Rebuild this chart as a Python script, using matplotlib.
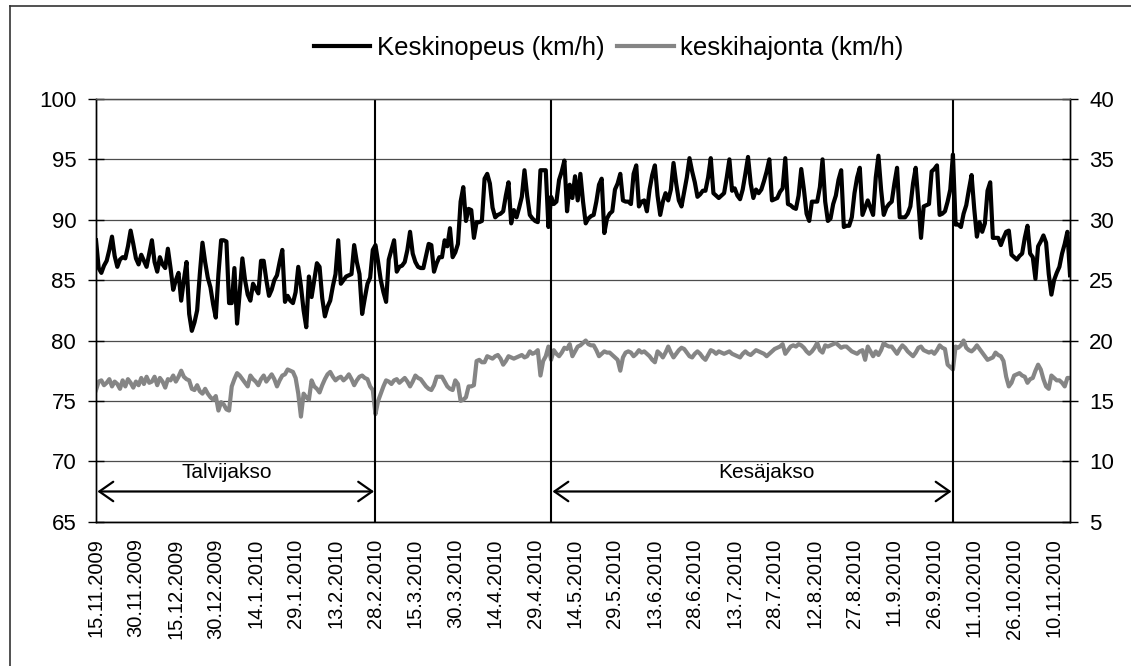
import matplotlib
matplotlib.use("Agg")
import matplotlib.pyplot as plt
import pandas as pd
from matplotlib.lines import Line2D

plt.rcParams['font.family'] = ['Liberation Sans', 'DejaVu Sans']

start_date = '2009-11-15'

# Keskinopeus (km/h), daily values from 15.11.2009
speed = [
    88.3, 86.0, 85.6, 86.2, 86.6, 87.5, 88.6, 87.0, 86.1, 86.7,
    86.9, 86.8, 87.8, 89.1, 88.0, 86.8, 86.3, 87.1, 86.6, 86.1,
    87.2, 88.3, 86.5, 85.7, 86.9, 86.3, 86.0, 87.6, 86.0, 84.2,
    85.0, 85.6, 83.3, 85.0, 86.5, 82.2, 80.8, 81.5, 82.5, 85.5,
    88.1, 86.5, 85.2, 84.4, 83.0, 81.9, 85.5, 88.3, 88.3, 88.2,
    83.1, 83.1, 86.0, 81.4, 84.0, 86.8, 85.0, 83.8, 83.3, 84.7,
    84.3, 83.9, 86.6, 86.6, 85.0, 83.7, 84.2, 85.0, 85.4, 86.5,
    87.5, 83.2, 83.7, 83.3, 83.1, 84.0, 86.1, 84.5, 82.5, 81.1,
    85.3, 83.6, 85.0, 86.4, 86.1, 83.5, 82.0, 82.8, 83.3, 84.5,
    85.5, 88.3, 84.7, 85.0, 85.3, 85.4, 85.5, 87.9, 86.5, 85.5,
    82.2, 83.5, 84.7, 85.2, 87.5, 87.9, 86.5, 85.0, 84.0, 83.2,
    86.7, 87.5, 88.3, 85.7, 86.1, 86.2, 86.5, 87.5, 89.0, 87.2,
    86.5, 86.1, 86.0, 86.0, 87.0, 88.0, 87.9, 85.7, 86.4, 86.9,
    86.9, 88.3, 87.8, 89.3, 86.9, 87.3, 88.0, 91.5, 92.7, 89.9,
    90.9, 90.8, 88.5, 89.8, 89.8, 89.9, 93.4, 93.8, 93.0, 91.0,
    90.2, 90.4, 90.5, 90.7, 92.0, 93.1, 89.7, 90.8, 90.2, 91.0,
    91.9, 94.1, 92.0, 90.4, 90.1, 89.9, 89.8, 94.1, 94.1, 94.1,
    89.4, 91.9, 91.3, 91.5, 93.3, 94.0, 94.9, 90.7, 92.9, 91.8,
    93.6, 91.6, 93.8, 91.5, 89.7, 90.1, 90.3, 90.4, 91.5, 92.9,
    93.4, 88.9, 90.1, 90.5, 90.7, 92.5, 93.0, 93.8, 91.6, 91.5,
    91.5, 91.3, 93.8, 94.5, 91.1, 91.5, 91.6, 90.7, 92.5, 93.7,
    94.5, 92.0, 90.4, 91.5, 92.2, 91.6, 92.5, 94.7, 93.0, 91.6,
    91.1, 92.3, 93.5, 95.1, 94.0, 93.1, 91.9, 92.1, 92.4, 92.4,
    93.5, 95.1, 92.2, 92.0, 91.8, 92.0, 92.2, 93.5, 95.0, 92.4,
    92.6, 92.0, 91.7, 92.5, 93.8, 95.2, 93.0, 91.8, 92.5, 92.2,
    92.5, 93.2, 94.0, 95.0, 91.6, 91.7, 91.8, 92.3, 92.6, 95.1,
    91.3, 91.2, 91.0, 90.9, 92.0, 94.2, 92.5, 90.5, 89.9, 91.5,
    91.5, 91.5, 92.7, 95.0, 91.5, 89.9, 90.1, 91.3, 92.0, 93.3,
    94.1, 89.4, 89.5, 89.5, 90.2, 92.2, 93.5, 94.3, 90.4, 91.0,
    91.6, 91.0, 90.4, 93.5, 95.3, 92.5, 90.4, 91.0, 91.3, 91.5,
    93.0, 94.3, 90.2, 90.2, 90.2, 90.5, 91.1, 93.0, 94.3, 91.5,
    88.5, 91.1, 91.2, 91.3, 94.0, 94.2, 94.5, 90.4, 90.5, 90.7,
    91.5, 92.5, 95.4, 89.6, 89.6, 89.4, 90.5, 91.2, 92.5, 93.7,
    90.9, 88.6, 89.8, 89.0, 89.7, 92.4, 93.1, 88.5, 88.5, 88.5,
    87.9, 88.5, 89.0, 89.1, 87.1, 86.9, 86.7, 87.0, 87.2, 88.5,
    89.5, 87.2, 86.9, 85.1, 87.8, 88.2, 88.7, 88.1, 85.5, 83.8,
    85.0, 85.6, 86.1, 87.2, 88.0, 89.0, 85.4,
]

# keskihajonta (km/h), daily values from 15.11.2009 (right axis)
spread = [
    15.9, 16.6, 16.7, 16.3, 16.5, 16.8, 16.2, 16.6, 16.4, 16.0,
    16.7, 16.2, 16.8, 16.5, 16.1, 16.6, 16.3, 16.9, 16.4, 17.0,
    16.5, 16.6, 17.0, 16.3, 16.9, 16.6, 16.1, 16.8, 16.7, 17.1,
    16.6, 17.0, 17.5, 17.0, 16.8, 16.7, 16.0, 15.9, 16.3, 15.8,
    15.6, 16.0, 15.6, 15.3, 15.1, 15.4, 14.2, 14.9, 14.7, 14.3,
    14.2, 16.2, 16.8, 17.3, 17.1, 16.8, 16.5, 16.2, 17.1, 16.8,
    16.6, 16.3, 16.8, 17.1, 16.6, 16.9, 17.2, 16.8, 16.2, 16.7,
    17.1, 17.2, 17.6, 17.5, 17.4, 16.9, 15.6, 13.7, 15.6, 15.3,
    15.1, 16.7, 16.2, 16.0, 15.7, 16.3, 16.8, 17.2, 17.4, 17.0,
    16.7, 16.9, 17.0, 16.7, 16.9, 17.2, 16.8, 16.3, 16.7, 17.0,
    17.1, 16.9, 16.8, 16.2, 15.9, 13.9, 15.0, 15.6, 16.2, 16.7,
    16.6, 16.4, 16.7, 16.8, 16.5, 16.7, 16.9, 16.6, 16.2, 16.6,
    17.1, 16.9, 16.8, 16.5, 16.2, 16.0, 15.9, 16.3, 17.0, 17.0,
    17.0, 16.6, 16.2, 16.0, 15.9, 16.7, 16.4, 15.0, 15.1, 15.3,
    16.2, 16.2, 16.3, 18.3, 18.4, 18.2, 18.2, 18.7, 18.6, 18.5,
    18.7, 18.8, 18.5, 18.0, 18.3, 18.7, 18.6, 18.5, 18.6, 18.7,
    18.8, 18.6, 18.7, 19.1, 18.9, 19.0, 19.2, 17.1, 18.3, 18.7,
    19.5, 18.4, 19.2, 18.9, 18.7, 19.0, 19.4, 19.3, 19.7, 18.7,
    19.1, 19.5, 19.6, 19.8, 20.0, 19.7, 19.6, 19.6, 19.2, 18.7,
    18.9, 19.1, 19.0, 19.0, 18.8, 18.6, 18.4, 17.5, 18.6, 19.0,
    19.1, 19.0, 18.7, 18.9, 19.2, 19.0, 19.1, 18.9, 18.7, 18.4,
    18.2, 19.1, 18.9, 18.6, 19.0, 19.5, 19.0, 18.6, 18.9, 19.2,
    19.4, 19.3, 19.0, 18.7, 18.6, 18.9, 19.1, 18.9, 18.6, 18.4,
    18.8, 19.2, 19.1, 18.9, 19.1, 19.0, 18.9, 19.0, 19.1, 18.9,
    18.8, 18.7, 18.6, 18.9, 19.1, 18.9, 18.8, 19.0, 19.2, 19.1,
    19.0, 18.9, 18.7, 18.9, 19.1, 19.3, 19.4, 19.5, 19.7, 18.9,
    19.2, 19.5, 19.6, 19.5, 19.7, 19.6, 19.4, 19.1, 18.9, 19.1,
    19.4, 19.8, 19.2, 19.0, 19.6, 19.5, 19.6, 19.7, 19.8, 19.6,
    19.4, 19.5, 19.5, 19.3, 19.1, 19.0, 18.9, 19.1, 19.2, 18.4,
    19.5, 19.1, 18.7, 19.1, 18.8, 19.2, 19.8, 19.6, 19.5, 19.5,
    19.2, 18.9, 19.3, 19.6, 19.4, 19.1, 18.9, 18.7, 19.0, 19.4,
    19.5, 19.2, 19.1, 19.0, 19.1, 18.9, 19.2, 19.6, 19.4, 19.3,
    18.0, 17.8, 17.6, 19.5, 19.4, 19.6, 20.0, 19.4, 19.2, 19.1,
    19.3, 19.6, 19.3, 19.0, 18.7, 18.4, 18.5, 18.6, 19.0, 18.8,
    18.7, 18.3, 17.0, 16.2, 16.5, 17.1, 17.2, 17.3, 17.1, 17.0,
    16.5, 16.8, 16.9, 17.5, 18.0, 17.6, 16.8, 16.2, 16.0, 17.1,
    16.9, 16.7, 16.7, 16.5, 16.2, 16.9, 16.9,
]

series_labels = ['Keskinopeus (km/h)', 'keskihajonta (km/h)']
period_lines = ['2010-02-28', '2010-05-05', '2010-10-03']
period_names = ['Talvijakso', 'Kesäjakso']
period_spans = [('2009-11-15', '2010-02-28'), ('2010-05-05', '2010-10-03')]
period_label_dates = ['2010-01-03', '2010-07-25']

dates_speed = pd.date_range(start_date, periods=len(speed), freq='D')
dates_spread = pd.date_range(start_date, periods=len(spread), freq='D')
label_dates = pd.date_range(start_date, dates_speed[-1], freq='15D')
mark_dates = pd.date_range(start_date, dates_speed[-1], freq='30D')

fig = plt.figure(figsize=(11.31, 6.66), dpi=100)
ax = fig.add_axes([0.0849, 0.2167, 0.8612, 0.6347])
ax2 = ax.twinx()

ax.set_ylim(65, 100)
ax.set_yticks(range(65, 101, 5))
ax2.set_ylim(5, 40)
ax2.set_yticks(range(5, 41, 5))
ax.set_xlim(dates_speed[0], dates_speed[-1])

ax.yaxis.grid(True, color='#4d4d4d', lw=0.9)
ax.set_axisbelow(True)

l1, = ax.plot(dates_speed, speed, color='black', lw=3.0, solid_joinstyle='round',
              label=series_labels[0])
l2, = ax2.plot(dates_spread, spread, color='#858585', lw=3.0, solid_joinstyle='round',
               label=series_labels[1])

for d in period_lines:
    ax2.axvline(pd.Timestamp(d), color='black', lw=1.5)

for (s, e), name, ld in zip(period_spans, period_names, period_label_dates):
    ax.annotate('', xy=(pd.Timestamp(e), 67.5), xytext=(pd.Timestamp(s), 67.5),
                arrowprops=dict(arrowstyle='<->,head_length=0.5,head_width=0.35',
                                lw=1.6, color='black', shrinkA=1, shrinkB=1,
                                mutation_scale=20))
    ax.text(pd.Timestamp(ld), 69.1, name, ha='center', va='center', fontsize=15)

ax.set_xticks(label_dates)
ax.set_xticklabels([f"{d.day}.{d.month}.{d.year}" for d in label_dates],
                   rotation=90, fontsize=14.5)
ax.set_xticks(mark_dates, minor=True)
ax.tick_params(axis='x', which='major', length=0, pad=12)
ax.tick_params(axis='x', which='minor', length=7.5, width=1, direction='inout')
ax.tick_params(axis='y', direction='inout', length=11.5, width=1, pad=8.5, labelsize=16)
ax2.tick_params(axis='y', direction='inout', length=11.5, width=1, pad=8, labelsize=16)

for a in (ax, ax2):
    for sp in ('left', 'right', 'bottom'):
        a.spines[sp].set_color('black')
        a.spines[sp].set_linewidth(1.0)
    a.spines['top'].set_color('#4d4d4d')
    a.spines['top'].set_linewidth(0.9)

leg = fig.legend(handles=[l1, l2], loc='center', bbox_to_anchor=(0.538, 0.928),
                 ncol=2, frameon=False, fontsize=18.5, handlelength=2.2,
                 handletextpad=0.25, columnspacing=0.5)

# outer chart border (left and top edges visible)
fig.add_artist(Line2D([9.5 / 1131, 9.5 / 1131], [0, 1 - 6 / 666], color='#333333', lw=1.2))
fig.add_artist(Line2D([9.5 / 1131, 1], [1 - 6 / 666, 1 - 6 / 666], color='#333333', lw=1.2))

fig.savefig('out.png', dpi=100)
